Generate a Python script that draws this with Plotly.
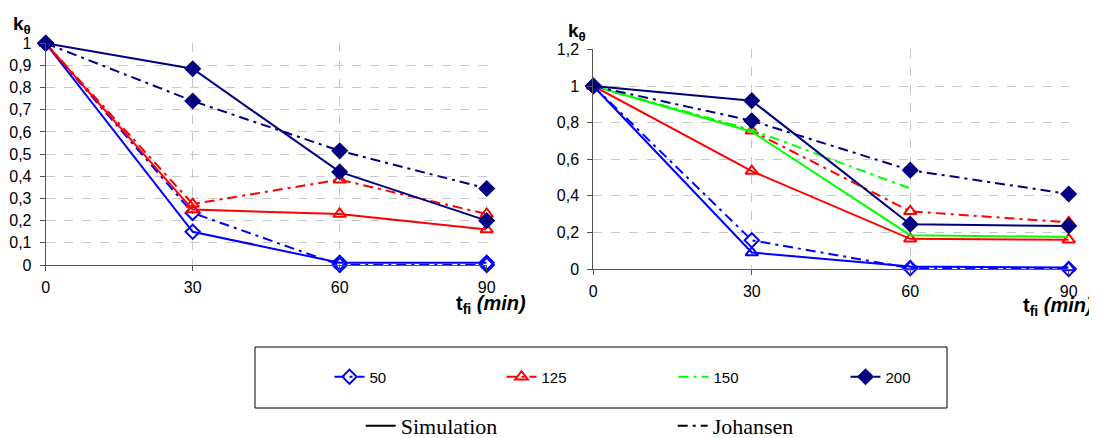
import plotly.graph_objects as go

# ---------------- data ----------------
t_min = [0, 30, 60, 90]

left_sim_50 = [1, 0.15, 0.01, 0.01]
left_joh_50 = [1, 0.235, 0.0, 0.0]
left_sim_125 = [1, 0.25, 0.23, 0.16]
left_joh_125 = [1, 0.275, 0.385, 0.23]
left_sim_200 = [1, 0.885, 0.42, 0.2]
left_joh_200 = [1, 0.74, 0.515, 0.345]

right_sim_50 = [1, 0.09, 0.013, 0.008]
right_joh_50 = [1, 0.157, 0.005, 0.0]
right_sim_125 = [1, 0.535, 0.165, 0.16]
right_joh_125 = [1, 0.755, 0.315, 0.255]
right_sim_150 = [1, 0.75, 0.185, 0.175]
right_joh_150 = [1, 0.76, 0.44, None]
right_sim_200 = [1, 0.92, 0.245, 0.235]
right_joh_200 = [1, 0.81, 0.54, 0.41]

left_yticks = [0, 0.1, 0.2, 0.3, 0.4, 0.5, 0.6, 0.7, 0.8, 0.9, 1]
right_yticks = [0, 0.2, 0.4, 0.6, 0.8, 1, 1.2]

series_names = ["50", "125", "150", "200"]
method_names = ["Simulation", "Johansen"]

# ---------------- styles ----------------
OFF = 8                      # default page (body) margin of the html page
W, H = 1097 - OFF, 438 - OFF
BLUE, RED, GREEN, NAVY = "#0000FF", "#FF0000", "#00FF00", "#000080"
DASHDOT = "10px,5px,3px,5px"
FONT = "Liberation Sans, Arial, sans-serif"

fig = go.Figure()


def add(x, y, color, dash, symbol, xa, ya, name=None, show=False, rank=None, msize=11):
    mode = "lines+markers" if symbol else "lines"
    marker = dict(symbol=symbol or "circle", size=msize, color=color,
                  line=dict(color=color, width=2))
    fig.add_trace(go.Scatter(
        x=x, y=y, mode=mode, xaxis=xa, yaxis=ya,
        line=dict(color=color, width=2, dash=dash),
        marker=marker, cliponaxis=False,
        name=name or "", showlegend=show, legendrank=rank or 1000,
        legend="legend", hoverinfo="skip"))


# left chart
add(t_min, left_sim_50, BLUE, "solid", "diamond-open", "x", "y")
add(t_min, left_joh_50, BLUE, DASHDOT, "diamond-open", "x", "y", series_names[0], True, 1)
add(t_min, left_sim_125, RED, "solid", "triangle-up-open", "x", "y")
add(t_min, left_joh_125, RED, DASHDOT, "triangle-up-open", "x", "y", series_names[1], True, 2)
add(t_min, left_joh_200, NAVY, DASHDOT, "diamond", "x", "y", series_names[3], True, 4)
add(t_min, left_sim_200, NAVY, "solid", "diamond", "x", "y")

# right chart
add(t_min, right_sim_50, BLUE, "solid", "triangle-up-open", "x2", "y2")
add(t_min, right_joh_50, BLUE, DASHDOT, "diamond-open", "x2", "y2")
add(t_min, right_sim_125, RED, "solid", "triangle-up-open", "x2", "y2")
add(t_min, right_joh_125, RED, DASHDOT, "triangle-up-open", "x2", "y2")
add(t_min, right_sim_150, GREEN, "solid", None, "x2", "y2")
add(t_min, right_joh_150, GREEN, DASHDOT, None, "x2", "y2", series_names[2], True, 3)
add(t_min, right_joh_200, NAVY, DASHDOT, "diamond", "x2", "y2")
add(t_min, right_sim_200, NAVY, "solid", "diamond", "x2", "y2")

# method legend (second legend)
for nm, dash in zip(method_names, ["solid", DASHDOT]):
    fig.add_trace(go.Scatter(x=[None], y=[None], mode="lines", name=nm,
                             line=dict(color="black", width=2, dash=dash),
                             legend="legend2", showlegend=True, hoverinfo="skip"))


def px_x(p):
    """page pixel -> paper fraction"""
    return (p - OFF) / W


def px_y(p):
    return 1 - (p - OFF) / H


axis_common = dict(showline=True, linecolor="#555555", linewidth=1,
                   ticks="outside", ticklen=5, tickcolor="#555555",
                   showgrid=True, gridcolor="#c8c8c8", griddash="dash", gridwidth=1,
                   zeroline=False, tickfont=dict(family=FONT, size=16, color="black"))

fig.update_layout(
    width=W, height=H, margin=dict(l=0, r=0, t=0, b=0, autoexpand=False),
    paper_bgcolor="white", plot_bgcolor="white",
    separators=", ",
    font=dict(family=FONT, color="black"),
    xaxis=dict(domain=[px_x(45.7), px_x(486.7)], range=[0, 90], tickvals=t_min,
               anchor="y", ticklabelstandoff=3, **axis_common),
    yaxis=dict(domain=[px_y(265), px_y(43.3)], range=[0, 1], tickvals=left_yticks,
               anchor="x", ticklabelstandoff=5, **axis_common),
    xaxis2=dict(domain=[px_x(593.3), px_x(1068.7)], range=[0, 90], tickvals=t_min,
                anchor="y2", ticklabelstandoff=3, **axis_common),
    yaxis2=dict(domain=[px_y(269), px_y(49.4)], range=[0, 1.2], tickvals=right_yticks,
                anchor="x2", ticklabelstandoff=5, **axis_common),
    legend=dict(orientation="h", x=px_x(329.5), xanchor="left", y=px_y(377), yanchor="middle",
                bgcolor="rgba(0,0,0,0)", borderwidth=0,
                entrywidth=127, entrywidthmode="pixels",
                font=dict(family=FONT, size=15, color="black")),
    legend2=dict(orientation="h", x=px_x(360.7), xanchor="left", y=px_y(426), yanchor="middle",
                 bgcolor="rgba(0,0,0,0)", borderwidth=0,
                 entrywidth=267, entrywidthmode="pixels",
                 font=dict(family="Liberation Serif, Times New Roman, serif", size=22, color="black")),
    shapes=[dict(type="rect", xref="paper", yref="paper",
                 x0=px_x(255), x1=px_x(947), y0=px_y(408), y1=px_y(347),
                 line=dict(color="black", width=1), fillcolor="rgba(0,0,0,0)", layer="below")],
    annotations=[
        dict(text="<b>k<sub>θ</sub></b>", xref="paper", yref="paper", x=px_x(11), y=px_y(25),
             xanchor="left", yanchor="middle", showarrow=False, font=dict(size=19, family=FONT)),
        dict(text="<b>k<sub>θ</sub></b>", xref="paper", yref="paper", x=px_x(566), y=px_y(32),
             xanchor="left", yanchor="middle", showarrow=False, font=dict(size=19, family=FONT)),
        dict(text="<b>t<sub>fi</sub> <i>(min)</i></b>", xref="paper", yref="paper", x=px_x(454), y=px_y(304),
             xanchor="left", yanchor="middle", showarrow=False, font=dict(size=20, family=FONT)),
        dict(text="<b>t<sub>fi</sub> <i>(min)</i></b>", xref="paper", yref="paper", x=px_x(1021), y=px_y(306),
             xanchor="left", yanchor="middle", showarrow=False, font=dict(size=20, family=FONT)),
    ],
)

fig.write_html("out.html")
